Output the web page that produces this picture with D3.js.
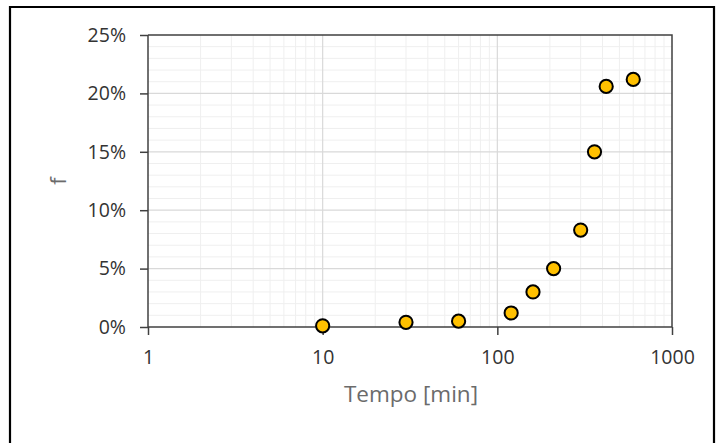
<!DOCTYPE html>
<html>
<head>
<meta charset="utf-8">
<script src="https://cdn.jsdelivr.net/npm/d3@7"></script>
<style>
  html, body { margin: 0; padding: 0; background: #fff; }
  svg { display: block; }
</style>
</head>
<body>
<svg id="chart" width="716" height="443"></svg>
<script>
// Data
const tempo = [10, 30, 60, 120, 160, 210, 300, 360, 420, 600];
const fValues = [0.001, 0.004, 0.005, 0.012, 0.030, 0.050, 0.083, 0.150, 0.206, 0.212];
const xTicks = [1, 10, 100, 1000];
const yTicks = [0, 0.05, 0.10, 0.15, 0.20, 0.25];
const xTitle = "Tempo [min]";
const yTitle = "f";

const svg = d3.select("#chart");
const W = 716, H = 443;
const m = { left: 148, right: 716 - 672, top: 35, bottom: 443 - 327 };

const x = d3.scaleLog().domain([1, 1000]).range([m.left, W - m.right]);
const y = d3.scaleLinear().domain([0, 0.25]).range([H - m.bottom, m.top]);

// outer frame
svg.append("path")
  .attr("d", `M10,${H} L10,7 L714,7 L714,${H}`)
  .attr("fill", "none").attr("stroke", "#000").attr("stroke-width", 2.2);

const g = svg.append("g");

// minor gridlines
const xMinor = [];
for (let d = 1; d < 1000; d *= 10) for (let k = 2; k <= 9; k++) xMinor.push(d * k);
const yMinor = d3.range(0, 26).map(v => v / 100).filter(v => Math.round(v * 100) % 5 !== 0);

g.append("g").selectAll("line").data(xMinor).join("line")
  .attr("x1", d => x(d)).attr("x2", d => x(d))
  .attr("y1", y(0)).attr("y2", y(0.25))
  .attr("stroke", "#efefef").attr("stroke-width", 1);
g.append("g").selectAll("line").data(yMinor).join("line")
  .attr("x1", x(1)).attr("x2", x(1000))
  .attr("y1", d => y(d)).attr("y2", d => y(d))
  .attr("stroke", "#efefef").attr("stroke-width", 1);

// major gridlines
g.append("g").selectAll("line").data(xTicks.slice(1, -1)).join("line")
  .attr("x1", d => x(d)).attr("x2", d => x(d))
  .attr("y1", y(0)).attr("y2", y(0.25))
  .attr("stroke", "#d9d9d9").attr("stroke-width", 1.2);
g.append("g").selectAll("line").data(yTicks.slice(1, -1)).join("line")
  .attr("x1", x(1)).attr("x2", x(1000))
  .attr("y1", d => y(d)).attr("y2", d => y(d))
  .attr("stroke", "#d9d9d9").attr("stroke-width", 1.2);

// plot border (top and right)
g.append("path")
  .attr("d", `M${x(1)},${y(0.25)} L${x(1000)},${y(0.25)} L${x(1000)},${y(0)}`)
  .attr("fill", "none").attr("stroke", "#404040").attr("stroke-width", 1.5);

// axes
const fontFam = "'Open Sans', 'Noto Sans', sans-serif";
const xAxis = d3.axisBottom(x).tickValues(xTicks).tickFormat(d3.format("d")).tickSize(8).tickPadding(15);
const yAxis = d3.axisLeft(y).tickValues(yTicks).tickFormat(d3.format(".0%")).tickSize(8).tickPadding(14);

const gx = svg.append("g").attr("transform", `translate(0,${y(0)})`).call(xAxis);
const gy = svg.append("g").attr("transform", `translate(${x(1)},0)`).call(yAxis);
[gx, gy].forEach(a => {
  a.select(".domain").attr("stroke", "#404040").attr("stroke-width", 1.5);
  a.selectAll(".tick line").attr("stroke", "#404040").attr("stroke-width", 1.5);
  a.selectAll(".tick text").attr("fill", "#333").style("font-family", fontFam).style("font-size", "19.5px");
});
gx.select(".domain").attr("d", `M${x(1)},0H${x(1000)}`);
gy.select(".domain").attr("d", `M0,${y(0)}V${y(0.25)}`);

// points
svg.append("g").selectAll("circle").data(tempo.map((t, i) => [t, fValues[i]])).join("circle")
  .attr("cx", d => x(d[0])).attr("cy", d => y(d[1])).attr("r", 6.6)
  .attr("fill", "#FFC000").attr("stroke", "#000").attr("stroke-width", 2);

// titles
svg.append("text").attr("x", (x(1) + x(1000)) / 2 + 1).attr("y", 402)
  .attr("text-anchor", "middle").attr("fill", "#6b6b6b")
  .style("font-family", fontFam).style("font-size", "22.5px").text(xTitle);
svg.append("text").attr("transform", `translate(66,${(y(0) + y(0.25)) / 2}) rotate(-90)`)
  .attr("text-anchor", "middle").attr("fill", "#6b6b6b")
  .style("font-family", fontFam).style("font-size", "22px").text(yTitle);
</script>
</body>
</html>
